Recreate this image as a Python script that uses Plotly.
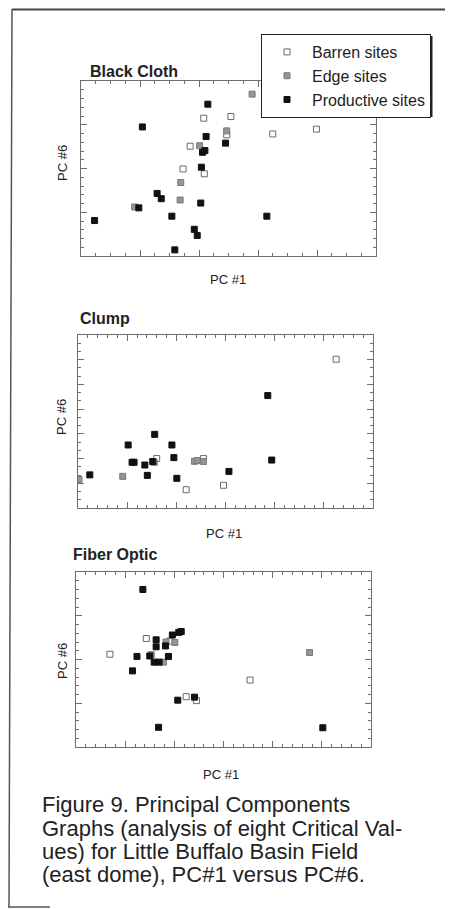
import plotly.graph_objects as go

# ---------------- data (arbitrary PC units) ----------------
# Black Cloth
bc_barren_x = [2.08, 2.54, 1.85, 1.73, 2.09, 2.47, 3.25, 3.99]
bc_barren_y = [3.15, 3.19, 2.51, 1.99, 1.88, 2.77, 2.79, 2.90]
bc_edge_x = [0.91, 1.69, 1.68, 2.01, 2.47, 2.90]
bc_edge_y = [1.12, 1.68, 1.28, 2.52, 2.86, 3.70]
bc_prod_x = [0.23, 1.04, 0.98, 1.29, 1.36, 1.54, 1.59, 1.92, 1.97, 2.03, 2.04,
             2.06, 2.10, 2.12, 2.15, 2.45, 3.15]
bc_prod_y = [0.81, 2.95, 1.10, 1.43, 1.31, 0.91, 0.14, 0.61, 0.47, 1.21, 2.03,
             2.37, 2.41, 2.73, 3.47, 2.58, 0.91]

# Clump
cl_barren_x = [1.60, 2.20, 2.55, 2.96, 5.25]
cl_barren_y = [2.00, 0.74, 2.00, 0.92, 6.02]
cl_edge_x = [0.02, 0.91, 1.55, 2.37, 2.43, 2.55]
cl_edge_y = [1.16, 1.28, 1.85, 1.89, 1.92, 1.88]
cl_prod_x = [0.24, 1.02, 1.10, 1.14, 1.36, 1.41, 1.52, 1.56, 1.91, 1.95, 2.01,
             3.07, 3.86, 3.94]
cl_prod_y = [1.34, 2.55, 1.85, 1.85, 1.74, 1.32, 1.88, 2.98, 2.55, 2.04, 1.20,
             1.48, 4.55, 1.94]

# Fiber Optic
fo_barren_x = [0.69, 1.43, 1.90, 2.24, 2.45, 3.54]
fo_barren_y = [2.12, 2.48, 2.42, 1.15, 1.06, 1.53]
fo_edge_x = [1.53, 1.78, 1.83, 2.01, 4.75]
fo_edge_y = [2.11, 1.94, 2.40, 2.39, 2.16]
fo_prod_x = [1.36, 1.15, 1.24, 1.50, 1.59, 1.63, 1.63, 1.69, 1.82, 1.88, 1.96,
             2.09, 2.14, 2.07, 2.41, 1.68, 5.02]
fo_prod_y = [3.60, 1.74, 2.07, 2.08, 1.94, 2.45, 2.29, 1.94, 2.31, 2.07, 2.56,
             2.62, 2.64, 1.07, 1.14, 0.45, 0.44]

series_names = ["Barren sites", "Edge sites", "Productive sites"]
panel_titles = ["Black Cloth", "Clump", "Fiber Optic"]
x_title = "PC #1"
y_title = "PC #6"
caption_lines = [
    "Figure 9. Principal Components",
    "Graphs (analysis of eight Critical Val-",
    "ues) for Little Buffalo Basin Field",
    "(east dome), PC#1 versus PC#6.",
]

# ---------------- layout geometry ----------------
# page coordinates; the html body adds an 8px margin, so the figure is offset
OFF = 8
W, H = 453 - OFF, 910 - OFF


def px(x):
    return (x - OFF) / W


def py(y):
    return 1 - (y - OFF) / H


panels = [
    dict(data=[(bc_barren_x, bc_barren_y), (bc_edge_x, bc_edge_y), (bc_prod_x, bc_prod_y)],
         box=(81, 376, 81, 256), xr=(0, 5), yr=(0, 4), xminor=0.25, yminor=0.2,
         title_xy=(88, 72), xlab=(228, 280), ylab=(62, 163)),
    dict(data=[(cl_barren_x, cl_barren_y), (cl_edge_x, cl_edge_y), (cl_prod_x, cl_prod_y)],
         box=(78, 373, 335, 508), xr=(0, 6), yr=(0, 7), xminor=0.2, yminor=1 / 3,
         title_xy=(78, 319), xlab=(224, 533), ylab=(62, 417)),
    dict(data=[(fo_barren_x, fo_barren_y), (fo_edge_x, fo_edge_y), (fo_prod_x, fo_prod_y)],
         box=(76, 371, 572, 747), xr=(0, 6), yr=(0, 4), xminor=0.2, yminor=0.2,
         title_xy=(71, 554), xlab=(221, 774), ylab=(62, 661)),
]

marker_styles = [
    dict(symbol="square-open", size=6, color="#6a6a6a", line=dict(width=1, color="#6a6a6a")),
    dict(symbol="square", size=6, color="#959595", line=dict(width=1, color="#7a7a7a")),
    dict(symbol="square", size=6, color="#111111", line=dict(width=1, color="#111111")),
]

fig = go.Figure()
annotations = []
shapes = []
AX_COLOR = "#6e6e6e"
TXT = "#222222"
FONT = "Liberation Sans, Arial"

for i, p in enumerate(panels):
    n = "" if i == 0 else str(i + 1)
    for j, (xs, ys) in enumerate(p["data"]):
        fig.add_trace(go.Scatter(
            x=xs, y=ys, mode="markers", name=series_names[j],
            marker=marker_styles[j], showlegend=(i == 0),
            xaxis="x" + n, yaxis="y" + n,
        ))
    x0, x1, y0, y1 = p["box"]
    common = dict(showgrid=False, zeroline=False, showticklabels=False,
                  showline=True, linecolor=AX_COLOR, linewidth=1, mirror="ticks",
                  ticks="inside", ticklen=6, tickcolor=AX_COLOR, tickwidth=1,
                  dtick=1, tick0=0, fixedrange=True)
    fig.update_layout(**{
        "xaxis" + n: dict(domain=[px(x0), px(x1)], range=list(p["xr"]),
                          anchor="y" + n,
                          minor=dict(dtick=p["xminor"], ticks="inside", ticklen=3,
                                     tickcolor=AX_COLOR, showgrid=False),
                          **common),
        "yaxis" + n: dict(domain=[py(y1), py(y0)], range=list(p["yr"]),
                          anchor="x" + n,
                          minor=dict(dtick=p["yminor"], ticks="inside", ticklen=3,
                                     tickcolor=AX_COLOR, showgrid=False),
                          **common),
    })
    tx, ty = p["title_xy"]
    annotations.append(dict(text="<b>" + panel_titles[i] + "</b>", x=px(tx), y=py(ty),
                            xref="paper", yref="paper", xanchor="left", yanchor="middle",
                            showarrow=False, font=dict(size=16, color=TXT, family=FONT)))
    lx, ly = p["xlab"]
    annotations.append(dict(text=x_title, x=px(lx), y=py(ly), xref="paper", yref="paper",
                            xanchor="center", yanchor="middle", showarrow=False,
                            font=dict(size=13, color=TXT, family=FONT)))
    yx, yy = p["ylab"]
    annotations.append(dict(text=y_title, x=px(yx), y=py(yy), xref="paper", yref="paper",
                            xanchor="center", yanchor="middle", showarrow=False,
                            textangle=-90,
                            font=dict(size=13, color=TXT, family=FONT)))

caption_y = [804, 828, 851, 874]
for line, cy in zip(caption_lines, caption_y):
    annotations.append(dict(text=line, x=px(40), y=py(cy), xref="paper", yref="paper",
                            xanchor="left", yanchor="middle", showarrow=False,
                            font=dict(size=22, color=TXT, family=FONT)))

# page frame lines
shapes.append(dict(type="line", xref="paper", yref="paper", x0=px(12), y0=py(9.5),
                   x1=px(453), y1=py(9.5), line=dict(color="#444444", width=2)))
shapes.append(dict(type="line", xref="paper", yref="paper", x0=px(12), y0=py(9),
                   x1=px(9), y1=py(907), line=dict(color="#555555", width=1.5)))
shapes.append(dict(type="line", xref="paper", yref="paper", x0=px(8), y0=py(907),
                   x1=px(50), y1=py(907), line=dict(color="#555555", width=1.5)))
# legend drop shadow
shapes.append(dict(type="rect", xref="paper", yref="paper", x0=px(263), y0=py(117),
                   x1=px(432.5), y1=py(36), fillcolor="#222222",
                   line=dict(width=0), layer="above"))

fig.update_layout(
    width=W, height=H, margin=dict(l=0, r=0, t=0, b=0),
    paper_bgcolor="white", plot_bgcolor="white",
    annotations=annotations, shapes=shapes,
    legend=dict(x=px(261), y=py(34), xanchor="left", yanchor="top",
                bgcolor="white", bordercolor="#222222", borderwidth=1,
                font=dict(size=16, color=TXT, family=FONT),
                itemwidth=40, tracegroupgap=0),
    showlegend=True,
)

fig.write_html("out.html")
